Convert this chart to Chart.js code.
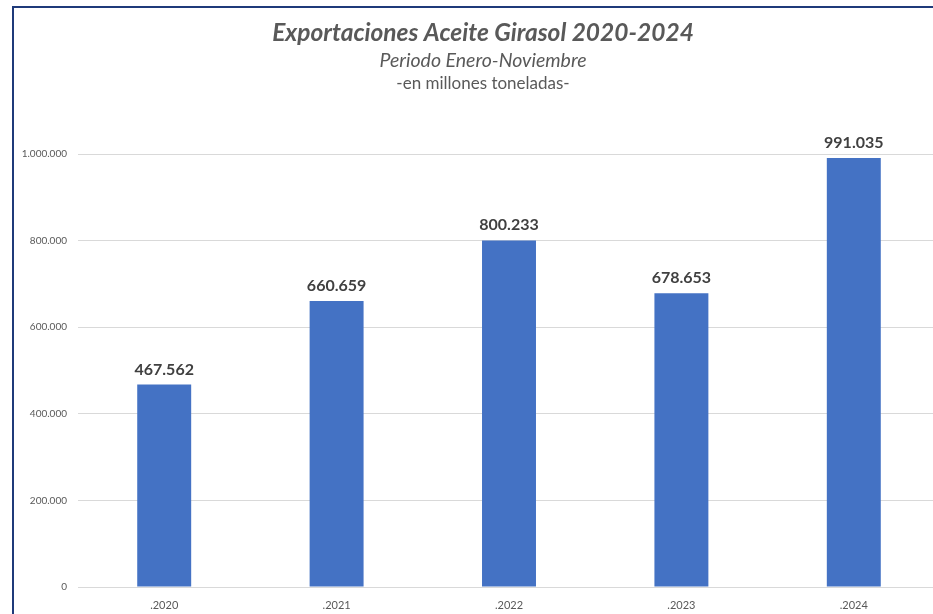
<!DOCTYPE html>
<html>
<head>
<meta charset="utf-8">
<script src="https://cdn.jsdelivr.net/npm/chart.js@4.4.1/dist/chart.umd.min.js"></script>
<style>
  html, body { margin: 0; padding: 0; background: #fff; overflow: hidden; }
  #frame {
    position: absolute; left: 12px; top: 6px;
    width: 960px; height: 700px;
    border-left: 2px solid #1f3a7a; border-top: 2px solid #1f3a7a;
  }
  #myChart { position: absolute; left: 0; top: 0; }
</style>
</head>
<body>
<div id="frame"><canvas id="myChart" width="940" height="606"></canvas></div>
<script>
/* chart data */
const years = [".2020", ".2021", ".2022", ".2023", ".2024"];
const exportsTons = [467562, 660659, 800233, 678653, 991035];
const yTicks = [0, 200000, 400000, 600000, 800000, 1000000];

const titleLines = [
  { text: "Exportaciones Aceite Girasol 2020-2024", font: "italic bold 24.5px Lato", y: 25 },
  { text: "Periodo Enero-Noviembre", font: "italic 19.5px Lato", y: 53 },
  { text: "-en millones toneladas-", font: "17px Lato", y: 76 },
];

const fmt = (v) => v.toLocaleString("de-DE");

// titles drawn on the canvas
const titlePlugin = {
  id: "titles",
  afterDraw(chart) {
    const c = chart.ctx;
    c.save();
    c.fillStyle = "#595959";
    c.textAlign = "center";
    c.textBaseline = "middle";
    titleLines.forEach((l) => {
      c.font = l.font;
      c.fillText(l.text, 469, l.y);
    });
    c.restore();
  },
};

// value labels above bars
const valueLabels = {
  id: "valueLabels",
  afterDatasetsDraw(chart) {
    const c = chart.ctx;
    const meta = chart.getDatasetMeta(0);
    c.save();
    c.fillStyle = "#404040";
    c.font = "bold 16px Lato";
    c.textAlign = "center";
    c.textBaseline = "alphabetic";
    meta.data.forEach((bar, i) => {
      c.fillText(fmt(exportsTons[i]), bar.x, bar.y - 10);
    });
    c.restore();
  },
};

const ctx = document.getElementById("myChart").getContext("2d");
const chart = new Chart(ctx, {
  type: "bar",
  data: {
    labels: years,
    datasets: [{
      label: "Exportaciones",
      backgroundColor: "#4472c4",
      data: exportsTons,
      categoryPercentage: 0.313,
      barPercentage: 1,
    }],
  },
  options: {
    responsive: false,
    animation: false,
    layout: { padding: { top: 146, left: 0, right: 14, bottom: 0 } },
    plugins: {
      legend: { display: false },
      tooltip: { enabled: false },
    },
    scales: {
      x: {
        grid: { display: false },
        border: { display: false },
        ticks: { color: "#595959", font: { family: "Lato", size: 11 }, padding: 4 },
        afterFit(scale) { scale.height = 27; },
      },
      y: {
        min: 0,
        max: 1000000,
        afterBuildTicks(scale) { scale.ticks = yTicks.map((v) => ({ value: v })); },
        grid: { color: "#d9d9d9", drawTicks: false },
        border: { display: false },
        ticks: {
          color: "#595959",
          font: { family: "Lato", size: 10 },
          padding: 11,
          callback: (v) => fmt(v),
        },
        afterFit(scale) { scale.width = 64; },
      },
    },
  },
  plugins: [titlePlugin, valueLabels],
});
</script>
</body>
</html>
